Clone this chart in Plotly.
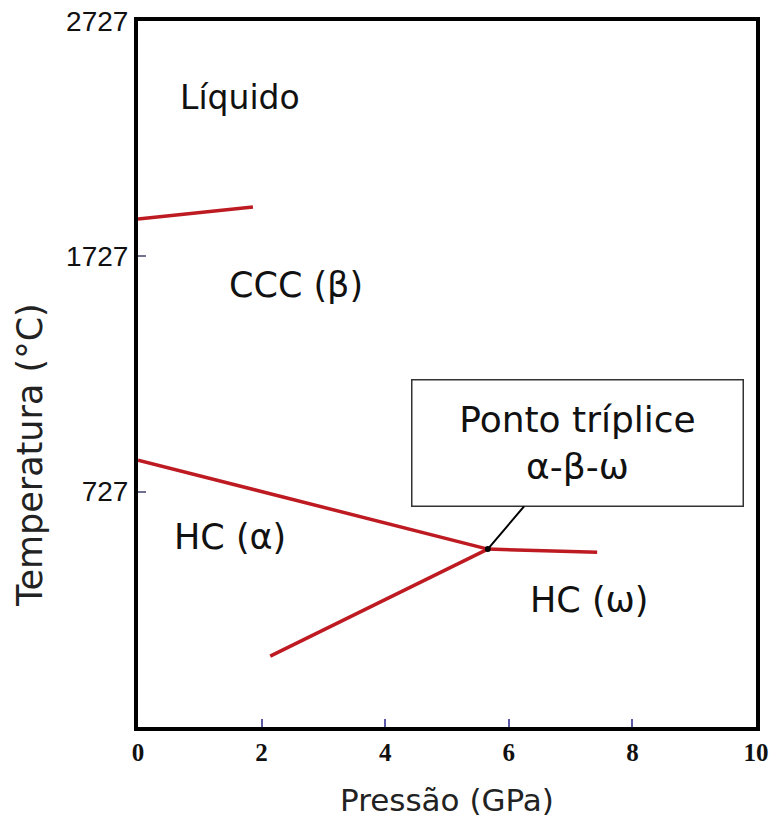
import plotly.graph_objects as go

# Phase boundaries: pressure (GPa) vs temperature (°C)
liq_beta_p = [0.0, 1.86]
liq_beta_t = [1886, 1937]

alpha_beta_p = [0.0, 5.66]
alpha_beta_t = [861, 483]

beta_omega_p = [5.66, 7.43]
beta_omega_t = [483, 470]

alpha_omega_p = [2.14, 5.66]
alpha_omega_t = [28, 483]

# α-β-ω triple point
triple_p = [5.66]
triple_t = [483]

# Phase field names and where they sit
phase_labels = ["Líquido", "CCC (β)", "HC (α)", "HC (ω)"]
label_p = [1.65, 2.56, 1.49, 7.30]
label_t = [2404, 1605, 534, 266]

x_ticks = [0, 2, 4, 6, 8, 10]
x_tick_text = ["0", "2", "4", "6", "8", "10"]
y_ticks = [727, 1727, 2727]
y_tick_text = ["727", "1727", "2727"]

RED = "#bd1a22"
SANS = "DejaVu Sans"

fig = go.Figure()

for px, ty in [(liq_beta_p, liq_beta_t), (alpha_beta_p, alpha_beta_t),
               (beta_omega_p, beta_omega_t), (alpha_omega_p, alpha_omega_t)]:
    fig.add_trace(go.Scatter(x=px, y=ty, mode="lines",
                             line=dict(color=RED, width=3.5),
                             hoverinfo="skip", showlegend=False))

fig.add_trace(go.Scatter(x=triple_p, y=triple_t, mode="markers",
                         marker=dict(color="black", size=6),
                         hoverinfo="skip", showlegend=False))

label_sizes = [33, 35, 35, 35]
for name, p, t, s in zip(phase_labels, label_p, label_t, label_sizes):
    fig.add_annotation(x=p, y=t, text=name, showarrow=False,
                       font=dict(family=SANS, size=s, color="#111111"),
                       xanchor="center", yanchor="middle")

# Callout box for the triple point
fig.add_annotation(x=triple_p[0], y=triple_t[0],
                   text="Ponto tríplice<br>α-β-ω",
                   showarrow=True, arrowhead=0, arrowwidth=2, arrowcolor="black",
                   ax=90, ay=-106, standoff=0,
                   bordercolor="#333333", borderwidth=1.5, borderpad=0,
                   bgcolor="white", width=330, height=125, align="center",
                   font=dict(family=SANS, size=36, color="#111111"))

# Axis titles
fig.add_annotation(xref="paper", yref="paper", x=0.5, y=-0.103,
                   text="Pressão (GPa)", showarrow=False,
                   xanchor="center", yanchor="middle",
                   font=dict(family=SANS, size=31, color="#222222"))
fig.add_annotation(xref="paper", yref="paper", x=-0.175, y=0.385,
                   text="Temperatura (°C)", showarrow=False, textangle=-90,
                   xanchor="center", yanchor="middle",
                   font=dict(family=SANS, size=35, color="#222222"))

fig.update_xaxes(range=[0, 10], tickvals=x_ticks, ticktext=x_tick_text,
                 ticks="inside", ticklen=8, tickwidth=1.5, tickcolor="#5a5aa8",
                 tickfont=dict(family="Liberation Serif", size=25,
                               color="#111111", weight="bold"),
                 showline=True, linecolor="black", linewidth=4, mirror=True,
                 showgrid=False, zeroline=False, fixedrange=True,
                 automargin=False)
fig.update_yaxes(range=[-273, 2727], tickvals=y_ticks, ticktext=y_tick_text,
                 ticks="inside", ticklen=8, tickwidth=1.5, tickcolor="#707090",
                 tickfont=dict(family="Liberation Sans", size=28, color="#111111"),
                 showline=True, linecolor="black", linewidth=4, mirror=True,
                 showgrid=False, zeroline=False, fixedrange=True,
                 automargin=False)

fig.update_layout(width=773, height=819,
                  margin=dict(l=138, r=17, t=21, b=92, autoexpand=False),
                  paper_bgcolor="white", plot_bgcolor="white",
                  showlegend=False)

fig.write_html("out.html", config={"displayModeBar": False})
